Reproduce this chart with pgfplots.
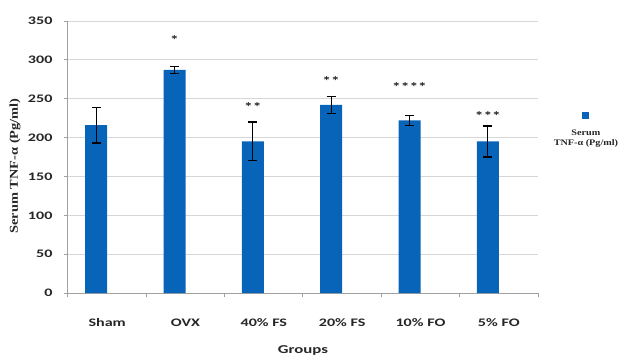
\documentclass[border=0pt]{standalone}
\usepackage{pgfplots}
\pgfplotsset{compat=1.18}
\usepackage{fontspec}
\setmainfont[FakeStretch=1.4]{Carlito}
\newfontfamily\serifw[FakeStretch=1.2]{Liberation Serif}
\definecolor{barblue}{RGB}{8,100,185}
\definecolor{axgray}{RGB}{160,160,160}
\definecolor{gridgray}{RGB}{215,215,215}
\begin{document}
\begin{tikzpicture}
\useasboundingbox (-68pt,-66pt) rectangle (553pt,293pt);
\begin{axis}[
  at={(0pt,0pt)}, anchor=south west,
  scale only axis, width=470pt, height=272pt,
  ymin=0, ymax=350, ytick={0,50,...,350},
  xmin=-0.5, xmax=5.5,
  xtick={-0.5,0.5,...,5.5}, xticklabels={},
  extra x ticks={0,1,2,3,4,5},
  extra x tick labels={Sham,OVX,40\% FS,20\% FS,10\% FO,5\% FO},
  extra x tick style={major tick length=0pt},
  axis x line*=bottom, axis y line*=left,
  axis line style={axgray, line width=1pt, -},
  ymajorgrids, grid style={gridgray, line width=1pt},
  tick align=outside, major tick length=4pt,
  tick style={axgray, line width=1pt},
  /pgf/number format/assume math mode=true,
  ticklabel style={font=\bfseries\fontsize{11.5}{12}\selectfont, text=black!85},
  yticklabel style={xshift=-8pt},
  xticklabel style={yshift=-22pt},
  xlabel={Groups},
  xlabel style={at={(axis description cs:0.5,0)}, anchor=center, yshift=-58pt, font=\bfseries\fontsize{12}{12}\selectfont, text=black!85},
  ylabel={Serum TNF-α (Pg/ml)},
  ylabel style={at={(axis description cs:0,0.467)}, anchor=center, yshift=53pt, font=\serifw\bfseries\fontsize{12}{12}\selectfont, text=black!85},
  legend style={at={(1.102,0.68)}, anchor=north, draw=none, fill=none,
    font=\serifw\bfseries\fontsize{8.5}{10}\selectfont, text=black!85, cells={align=center}},
  clip=false,
]
\addplot[ybar, bar width=22pt, bar shift=0pt, fill=barblue, draw=none,
  legend image code/.code={},
  error bars/.cd, y dir=both, y explicit,
  error bar style={black, line width=1.2pt},
  error mark options={rotate=90, mark size=4.5pt, line width=1.2pt, black}]
coordinates {
  (-0.14,216) +- (0,23)
  (0.86,287) +- (0,4.5)
  (1.86,195) +- (0,25)
  (2.86,242) +- (0,11)
  (3.86,222) +- (0,6)
  (4.86,195) +- (0,20)
};
\addlegendentry{\textcolor{barblue}{\rule{7pt}{7pt}}\\[6pt]Serum\\TNF-α (Pg/ml)}
\tikzset{star/.style={font=\bfseries\fontsize{12.5}{12.5}\selectfont, anchor=base, inner sep=0pt, yshift=-6.5pt, text=black!85}}
\node[star] at (axis cs:0.86,328) {*};
\node[star] at (axis cs:1.86,242) {**};
\node[star] at (axis cs:2.86,275) {**};
\node[star] at (axis cs:3.86,268) {****};
\node[star] at (axis cs:4.86,230) {***};
\end{axis}
\end{tikzpicture}
\end{document}
